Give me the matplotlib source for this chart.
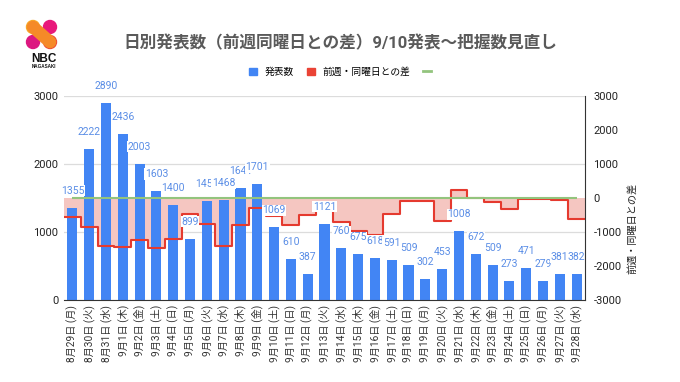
import matplotlib
matplotlib.use("Agg")
import matplotlib.pyplot as plt
from matplotlib.patches import Patch, Circle
from matplotlib.lines import Line2D

dates = ["8月29日 (月)", "8月30日 (火)", "8月31日 (水)", "9月1日 (木)", "9月2日 (金)",
         "9月3日 (土)", "9月4日 (日)", "9月5日 (月)", "9月6日 (火)", "9月7日 (水)",
         "9月8日 (木)", "9月9日 (金)", "9月10日 (土)", "9月11日 (日)", "9月12日 (月)",
         "9月13日 (火)", "9月14日 (水)", "9月15日 (木)", "9月16日 (金)", "9月17日 (土)",
         "9月18日 (日)", "9月19日 (月)", "9月20日 (火)", "9月21日 (水)", "9月22日 (木)",
         "9月23日 (金)", "9月24日 (土)", "9月25日 (日)", "9月26日 (月)", "9月27日 (火)",
         "9月28日 (水)"]
counts = [1355, 2222, 2890, 2436, 2003, 1603, 1400, 899, 1451, 1468, 1641, 1701, 1069,
          610, 387, 1121, 760, 675, 618, 591, 509, 302, 453, 1008, 672, 509, 273, 471,
          279, 381, 382]
diffs = [-550, -845, -1410, -1450, -1230, -1480, -1200, -456, -771, -1422, -795, -302,
         -534, -790, -512, -330, -708, -966, -1083, -478, -101, -85, -668, 248, -3,
         -109, -318, -38, -23, -72, -626]

title = "日別発表数（前週同曜日との差）9/10発表～把握数見直し"
bar_name = "発表数"
diff_name = "前週・同曜日との差"

BLUE = "#4285f4"
RED = "#e53a2f"
PINK = "#f5c6c1"
GREEN = "#93c47d"
FONTS = ["Roboto", "Noto Sans CJK JP", "DejaVu Sans"]

plt.rcParams["font.family"] = FONTS
plt.rcParams["axes.unicode_minus"] = False


def draw_logo(fig):
    lax = fig.add_axes([0, 0, 1, 1], zorder=-5)
    lax.set_xlim(0, 680)
    lax.set_ylim(382, 0)
    lax.axis("off")
    lax.plot([33, 50], [27, 42], color="#f58a28", lw=9, solid_capstyle="round")
    lax.add_patch(Circle((33, 27), 6.5, color="#f8a92a"))
    lax.add_patch(Circle((50, 27), 6.5, color="#e8197b"))
    lax.add_patch(Circle((33, 42), 6.5, color="#dc1780"))
    lax.add_patch(Circle((50, 42), 6.5, color="#ee4d34"))
    lax.text(44, 59, "NBC", fontsize=8.5, fontweight="bold", ha="center", va="center",
             family=["Liberation Sans", "DejaVu Sans"], color="#111111")
    lax.text(44, 67, "NAGASAKI", fontsize=3.3, fontweight="bold", ha="center", va="center",
             family=["Liberation Sans", "DejaVu Sans"], color="#111111")


def main():
    fig = plt.figure(figsize=(6.8, 3.82), dpi=100)
    draw_logo(fig)
    ax = fig.add_axes([64 / 680, 1 - 300 / 382, 521 / 680, 204 / 382])
    ax2 = ax.twinx()

    n = len(counts)
    x = list(range(n))
    edges = [i - 0.5 for i in range(n + 1)]

    ax.set_xlim(-0.5, n - 0.5)
    ax.set_ylim(0, 3000)
    ax2.set_ylim(-3000, 3000)

    # pink area and bars on the primary axes, diff artists use the right scale
    ax.stairs(diffs, edges, baseline=0, fill=True, color=PINK, lw=0,
              transform=ax2.transData, zorder=1)
    ax.bar(x, counts, width=0.6, color=BLUE, zorder=2)
    ax.stairs(diffs, edges, baseline=None, color=RED, lw=1.5,
              transform=ax2.transData, zorder=3, joinstyle="round")
    ax.hlines(0, 0, n - 1, color=GREEN, lw=1.5, transform=ax2.transData, zorder=3)

    for i, v in enumerate(counts):
        ax.annotate(str(v), (i, v), xytext=(0, 17), textcoords="offset pixels",
                    ha="center", va="center", fontsize=7.5, color="#5b8ee6", zorder=5,
                    bbox=dict(boxstyle="square,pad=0.05", fc="white", ec="none"))

    ax.set_yticks([0, 1000, 2000, 3000])
    ax.grid(axis="y", color="#dcdcdc", lw=0.9, zorder=0)
    ax.set_axisbelow(True)
    ax.set_xticks(x)
    ax.set_xticklabels(dates, rotation=90, fontsize=7.3, color="#333333")
    ax.tick_params(axis="x", length=0, pad=3.5)
    ax.tick_params(axis="y", length=0, pad=4, labelsize=8, labelcolor="#222222")
    for s in ["left", "top", "right"]:
        ax.spines[s].set_visible(False)
    ax.spines["bottom"].set_color("#333333")
    ax.spines["bottom"].set_zorder(4)

    ax2.set_yticks(range(-3000, 3001, 1000))
    ax2.tick_params(axis="y", length=0, pad=6, labelsize=8, labelcolor="#222222")
    for s in ["left", "top", "bottom"]:
        ax2.spines[s].set_visible(False)
    ax2.spines["right"].set_color("#333333")

    fig.text(632 / 680, 1 - 228 / 382, diff_name, rotation=90, ha="center", va="center",
             fontsize=7.3, color="#222222")
    fig.text(0.5, 1 - 43 / 382, title, ha="center", va="center", fontsize=12,
             fontweight="bold", color="#5a5a5a")

    handles = [Patch(color=BLUE), Patch(color="#ea4335"), Line2D([], [], color=GREEN, lw=2)]
    fig.legend(handles, [bar_name, diff_name, " "], loc="center",
               bbox_to_anchor=(345 / 680, 1 - 72 / 382), ncol=3, frameon=False,
               fontsize=7, handlelength=0.8, handleheight=0.8, columnspacing=1.3,
               handletextpad=0.8)

    fig.savefig("out.png", dpi=100)


if __name__ == "__main__":
    main()
